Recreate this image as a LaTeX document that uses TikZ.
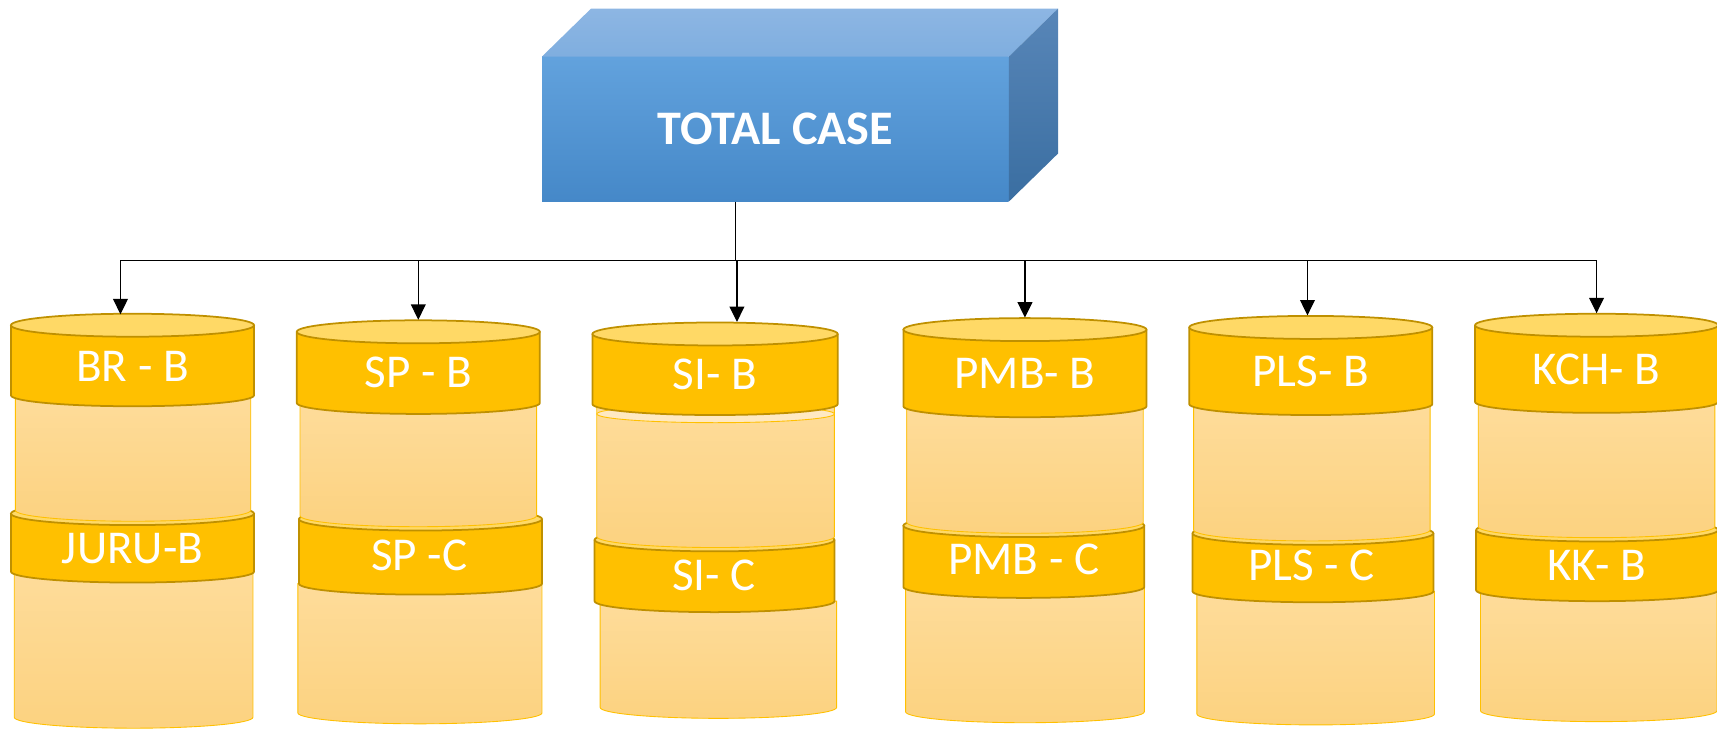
\documentclass[tikz,border=0pt]{standalone}
\usepackage{fontspec}
\setmainfont{Carlito}
\usetikzlibrary{arrows.meta,calc}
\definecolor{bandfill}{HTML}{FFC000}
\definecolor{bandline}{HTML}{BF9000}
\definecolor{captop}{HTML}{FFD966}
\definecolor{bodytop}{HTML}{FEDC9A}
\definecolor{bodybot}{HTML}{FCD280}
\definecolor{bodyline}{HTML}{FFC000}
\definecolor{hilite}{HTML}{FFE9C2}
\definecolor{frontA}{HTML}{62A2DD}
\definecolor{frontB}{HTML}{4588C8}
\definecolor{topA}{HTML}{8DB6E3}
\definecolor{topB}{HTML}{7FAEDF}
\definecolor{sideA}{HTML}{5886B8}
\definecolor{sideB}{HTML}{3A6EA1}
\tikzset{
  lbl/.style={text=white,font=\fontsize{43}{50}\selectfont,inner sep=0pt},
  conn/.style={draw=black,line width=1.1pt},
  arr/.style={conn,-{Triangle[length=14pt,width=13.5pt]}},
  bandedge/.style={draw=bandline,line width=1.6pt},
  bodyedge/.style={draw=bodyline,line width=0.8pt},
}
% body: x1 x2 ytop ybottom(side)
\newcommand\bodyshape[4]{%
  \shade[top color=bodytop,bottom color=bodybot,bodyedge]
    (#1,#3) -- (#1,#4) arc[start angle=180,end angle=0,x radius={(#2-#1)/2},y radius=10] -- (#2,#3) -- cycle;}
% band: x1 x2 ycentre-of-top-ellipse ybottom(side)
\newcommand\bandshape[4]{%
  \fill[bandfill] (#1,#3) -- (#1,#4) arc[start angle=180,end angle=0,x radius={(#2-#1)/2},y radius=10] -- (#2,#3) -- cycle;
  \draw[bandedge] (#1,#3) -- (#1,#4) arc[start angle=180,end angle=0,x radius={(#2-#1)/2},y radius=10] -- (#2,#3);
  \draw[bandedge,fill=captop] ({(#1+#2)/2},#3) ellipse[x radius={(#2-#1)/2},y radius=10.5];}
\begin{document}
\begin{tikzpicture}[x=1pt,y=-1pt]
\useasboundingbox (0,0) rectangle (1568,665);
% ---------- top box ----------
\node[top color=frontA,bottom color=frontB,minimum width=426pt,minimum height=132pt,inner sep=0pt,
      text=white,font=\bfseries\fontsize{44}{50}\selectfont] (total) at (708,118) {\raisebox{-3pt}{TOTAL CASE}};
\shade[top color=topA,bottom color=topB] (total.north west) -- ($(total.north west)+(45,-44)$)
   -- ($(total.north east)+(45,-44)$) -- (total.north east) -- cycle;
\shade[top color=sideA,bottom color=sideB] (total.north east) -- ($(total.north east)+(45,-44)$)
   -- ($(total.south east)+(45,-44)$) -- (total.south east) -- cycle;
% ---------- column 1 ----------
\bodyshape{13}{231}{522}{655}
\bandshape{10}{232}{469}{522}
\bodyshape{14}{229}{362}{466}
\bandshape{10}{232}{297}{361}
\node[lbl] (brb) at (121,335) {BR - B};
\node[lbl] (jurub) at (121,501) {JURU-B};
% ---------- column 2 ----------
\bodyshape{272}{495}{533}{651}
\bandshape{273}{495}{474}{533}
\bodyshape{274}{490}{368}{471}
\bandshape{271}{493}{303}{368}
\node[lbl] (spb) at (382,340) {SP - B};
\node[lbl] (spc) at (383,507) {SP -C};
% ---------- column 3 ----------
\bodyshape{548}{764}{549}{646}
\bandshape{543}{762}{493}{549}
\bodyshape{545}{762}{370}{490}
\draw[bodyedge,fill=hilite] (653.5,378) ellipse[x radius=108.5,y radius=8];
\bandshape{541}{765}{305}{369}
\node[lbl] (sib) at (653,342) {SI- B};
\node[lbl] (sic) at (652,525) {SI- C};
% ---------- column 4 ----------
\bodyshape{827}{1045}{536}{650}
\bandshape{825}{1045}{480}{536}
\bodyshape{828}{1044}{371}{477}
\bandshape{825}{1047}{301}{371}
\node[lbl] (pmbb) at (936,341) {PMB- B};
\node[lbl] (pmbc) at (935,511) {PMB - C};
% ---------- column 5 ----------
\bodyshape{1093}{1310}{540}{652}
\bandshape{1089}{1309}{487}{540}
\bodyshape{1090}{1306}{369}{484}
\bandshape{1086}{1308}{299}{369}
\node[lbl] (plsb) at (1197,339) {PLS- B};
\node[lbl] (plsc) at (1198,516) {PLS - C};
% ---------- column 6 ----------
\bodyshape{1352}{1568}{539}{649}
\bandshape{1348}{1569}{484}{539}
\bodyshape{1350}{1566}{368}{481}
\bandshape{1347}{1569}{297}{367}
\node[lbl] (kchb) at (1458,337) {KCH- B};
\node[lbl] (kkb) at (1458,516) {KK- B};
% ---------- connectors ----------
\coordinate (hub) at (672,238);
\coordinate (t1) at (110,287);
\coordinate (t2) at (382,292);
\coordinate (t3) at (673,294);
\coordinate (t4) at (936,290);
\coordinate (t5) at (1194,288);
\coordinate (t6) at (1458,286);
\draw[conn] (hub |- total.south) -- (hub);
\draw[conn] (t1 |- hub) -- (t6 |- hub);
\foreach \t in {t1,t2,t3,t4,t5,t6}{\draw[arr] (\t |- hub) -- (\t);}
\end{tikzpicture}
\end{document}
